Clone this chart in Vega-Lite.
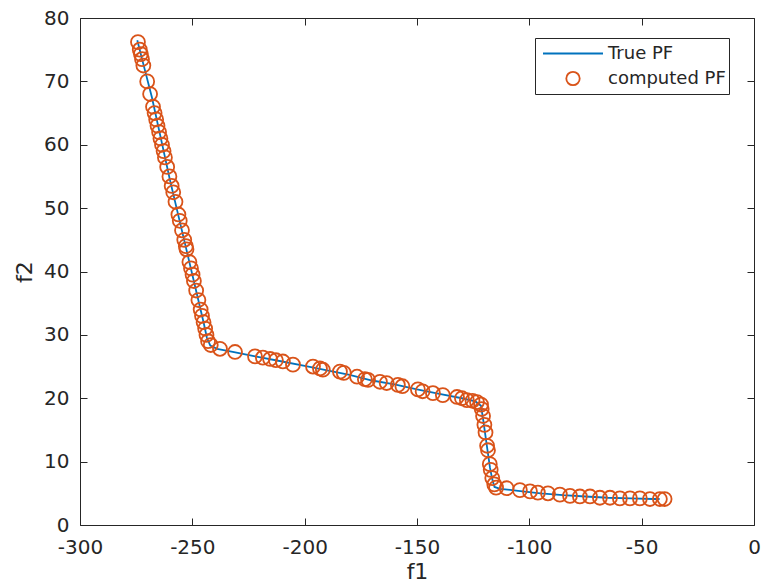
{
  "$schema": "https://vega.github.io/schema/vega-lite/v6.json",
  "autosize": {"type": "none"},
  "padding": {"left": 80, "top": 18, "right": 7, "bottom": 61},
  "width": 674,
  "height": 507,
  "background": "white",
  "config": {
    "view": {"stroke": "#262626", "strokeWidth": 1},
    "font": "DejaVu Sans"
  },
  "datasets": {
    "truepf": [
      {"f1": -274.5, "f2": 76.5, "series": "True PF"},
      {"f1": -272, "f2": 73, "series": "True PF"},
      {"f1": -268, "f2": 67.5, "series": "True PF"},
      {"f1": -264, "f2": 61, "series": "True PF"},
      {"f1": -260, "f2": 54.5, "series": "True PF"},
      {"f1": -256, "f2": 48.5, "series": "True PF"},
      {"f1": -252, "f2": 42.5, "series": "True PF"},
      {"f1": -248, "f2": 36.5, "series": "True PF"},
      {"f1": -245, "f2": 32, "series": "True PF"},
      {"f1": -243.5, "f2": 29.5, "series": "True PF"},
      {"f1": -242, "f2": 28.3, "series": "True PF"},
      {"f1": -239, "f2": 27.8, "series": "True PF"},
      {"f1": -232, "f2": 27.3, "series": "True PF"},
      {"f1": -222, "f2": 26.6, "series": "True PF"},
      {"f1": -210, "f2": 25.8, "series": "True PF"},
      {"f1": -200, "f2": 25.1, "series": "True PF"},
      {"f1": -190, "f2": 24.4, "series": "True PF"},
      {"f1": -180, "f2": 23.7, "series": "True PF"},
      {"f1": -170, "f2": 22.8, "series": "True PF"},
      {"f1": -160, "f2": 22.2, "series": "True PF"},
      {"f1": -150, "f2": 21.4, "series": "True PF"},
      {"f1": -140, "f2": 20.7, "series": "True PF"},
      {"f1": -130, "f2": 20.0, "series": "True PF"},
      {"f1": -124, "f2": 19.5, "series": "True PF"},
      {"f1": -121.5, "f2": 18.8, "series": "True PF"},
      {"f1": -120.5, "f2": 16.5, "series": "True PF"},
      {"f1": -119.5, "f2": 14, "series": "True PF"},
      {"f1": -118.5, "f2": 11.5, "series": "True PF"},
      {"f1": -117.5, "f2": 9, "series": "True PF"},
      {"f1": -116.5, "f2": 7.2, "series": "True PF"},
      {"f1": -115.5, "f2": 6.0, "series": "True PF"},
      {"f1": -113, "f2": 5.7, "series": "True PF"},
      {"f1": -105, "f2": 5.4, "series": "True PF"},
      {"f1": -95, "f2": 5.0, "series": "True PF"},
      {"f1": -85, "f2": 4.7, "series": "True PF"},
      {"f1": -75, "f2": 4.5, "series": "True PF"},
      {"f1": -65, "f2": 4.3, "series": "True PF"},
      {"f1": -55, "f2": 4.2, "series": "True PF"},
      {"f1": -45, "f2": 4.1, "series": "True PF"},
      {"f1": -42, "f2": 4.1, "series": "True PF"}
    ],
    "computed": [
      {"f1": -274.2, "f2": 76.2, "series": "computed PF"},
      {"f1": -273.4, "f2": 75.0, "series": "computed PF"},
      {"f1": -272.9, "f2": 74.3, "series": "computed PF"},
      {"f1": -272.4, "f2": 73.5, "series": "computed PF"},
      {"f1": -271.8, "f2": 72.5, "series": "computed PF"},
      {"f1": -270.1, "f2": 70.0, "series": "computed PF"},
      {"f1": -268.8, "f2": 68.0, "series": "computed PF"},
      {"f1": -267.5, "f2": 66.0, "series": "computed PF"},
      {"f1": -266.8, "f2": 65.0, "series": "computed PF"},
      {"f1": -266.1, "f2": 64.0, "series": "computed PF"},
      {"f1": -265.5, "f2": 63.0, "series": "computed PF"},
      {"f1": -264.8, "f2": 62.0, "series": "computed PF"},
      {"f1": -264.2, "f2": 61.0, "series": "computed PF"},
      {"f1": -263.5, "f2": 60.0, "series": "computed PF"},
      {"f1": -262.8, "f2": 59.0, "series": "computed PF"},
      {"f1": -262.2, "f2": 58.0, "series": "computed PF"},
      {"f1": -261.2, "f2": 56.5, "series": "computed PF"},
      {"f1": -260.2, "f2": 55.0, "series": "computed PF"},
      {"f1": -259.2, "f2": 53.5, "series": "computed PF"},
      {"f1": -258.5, "f2": 52.5, "series": "computed PF"},
      {"f1": -257.5, "f2": 51.0, "series": "computed PF"},
      {"f1": -256.2, "f2": 49.0, "series": "computed PF"},
      {"f1": -255.6, "f2": 48.0, "series": "computed PF"},
      {"f1": -254.6, "f2": 46.5, "series": "computed PF"},
      {"f1": -253.6, "f2": 45.0, "series": "computed PF"},
      {"f1": -252.9, "f2": 44.0, "series": "computed PF"},
      {"f1": -252.6, "f2": 43.5, "series": "computed PF"},
      {"f1": -251.3, "f2": 41.5, "series": "computed PF"},
      {"f1": -250.6, "f2": 40.5, "series": "computed PF"},
      {"f1": -249.9, "f2": 39.5, "series": "computed PF"},
      {"f1": -249.3, "f2": 38.5, "series": "computed PF"},
      {"f1": -248.3, "f2": 37.0, "series": "computed PF"},
      {"f1": -247.3, "f2": 35.5, "series": "computed PF"},
      {"f1": -246.3, "f2": 34.0, "series": "computed PF"},
      {"f1": -245.7, "f2": 33.0, "series": "computed PF"},
      {"f1": -245.0, "f2": 32.0, "series": "computed PF"},
      {"f1": -244.3, "f2": 31.0, "series": "computed PF"},
      {"f1": -243.7, "f2": 30.0, "series": "computed PF"},
      {"f1": -243.0, "f2": 29.0, "series": "computed PF"},
      {"f1": -241.8, "f2": 28.4, "series": "computed PF"},
      {"f1": -237.7, "f2": 27.8, "series": "computed PF"},
      {"f1": -231.0, "f2": 27.3, "series": "computed PF"},
      {"f1": -222.1, "f2": 26.6, "series": "computed PF"},
      {"f1": -218.6, "f2": 26.4, "series": "computed PF"},
      {"f1": -215.4, "f2": 26.2, "series": "computed PF"},
      {"f1": -212.8, "f2": 26.0, "series": "computed PF"},
      {"f1": -209.7, "f2": 25.8, "series": "computed PF"},
      {"f1": -205.2, "f2": 25.3, "series": "computed PF"},
      {"f1": -196.3, "f2": 25.0, "series": "computed PF"},
      {"f1": -193.2, "f2": 24.7, "series": "computed PF"},
      {"f1": -191.9, "f2": 24.5, "series": "computed PF"},
      {"f1": -184.3, "f2": 24.2, "series": "computed PF"},
      {"f1": -182.6, "f2": 24.0, "series": "computed PF"},
      {"f1": -176.7, "f2": 23.4, "series": "computed PF"},
      {"f1": -173.2, "f2": 23.0, "series": "computed PF"},
      {"f1": -171.8, "f2": 22.9, "series": "computed PF"},
      {"f1": -166.5, "f2": 22.6, "series": "computed PF"},
      {"f1": -163.5, "f2": 22.4, "series": "computed PF"},
      {"f1": -158.5, "f2": 22.1, "series": "computed PF"},
      {"f1": -156.5, "f2": 21.9, "series": "computed PF"},
      {"f1": -149.6, "f2": 21.4, "series": "computed PF"},
      {"f1": -147.5, "f2": 21.1, "series": "computed PF"},
      {"f1": -142.9, "f2": 20.8, "series": "computed PF"},
      {"f1": -138.5, "f2": 20.5, "series": "computed PF"},
      {"f1": -132.2, "f2": 20.2, "series": "computed PF"},
      {"f1": -130.0, "f2": 20.0, "series": "computed PF"},
      {"f1": -127.8, "f2": 19.7, "series": "computed PF"},
      {"f1": -125.3, "f2": 19.6, "series": "computed PF"},
      {"f1": -123.3, "f2": 19.4, "series": "computed PF"},
      {"f1": -121.5, "f2": 19.0, "series": "computed PF"},
      {"f1": -121.2, "f2": 18.3, "series": "computed PF"},
      {"f1": -120.6, "f2": 17.2, "series": "computed PF"},
      {"f1": -120.0, "f2": 15.8, "series": "computed PF"},
      {"f1": -119.5, "f2": 14.6, "series": "computed PF"},
      {"f1": -118.8, "f2": 12.5, "series": "computed PF"},
      {"f1": -118.4, "f2": 11.8, "series": "computed PF"},
      {"f1": -117.6, "f2": 9.6, "series": "computed PF"},
      {"f1": -117.2, "f2": 8.7, "series": "computed PF"},
      {"f1": -116.5, "f2": 7.4, "series": "computed PF"},
      {"f1": -115.6, "f2": 6.4, "series": "computed PF"},
      {"f1": -114.8, "f2": 5.9, "series": "computed PF"},
      {"f1": -110.1, "f2": 5.8, "series": "computed PF"},
      {"f1": -104.2, "f2": 5.5, "series": "computed PF"},
      {"f1": -99.7, "f2": 5.3, "series": "computed PF"},
      {"f1": -96.2, "f2": 5.1, "series": "computed PF"},
      {"f1": -91.7, "f2": 5.0, "series": "computed PF"},
      {"f1": -86.4, "f2": 4.8, "series": "computed PF"},
      {"f1": -81.9, "f2": 4.6, "series": "computed PF"},
      {"f1": -77.5, "f2": 4.5, "series": "computed PF"},
      {"f1": -73.0, "f2": 4.5, "series": "computed PF"},
      {"f1": -68.6, "f2": 4.3, "series": "computed PF"},
      {"f1": -64.1, "f2": 4.3, "series": "computed PF"},
      {"f1": -59.7, "f2": 4.2, "series": "computed PF"},
      {"f1": -55.2, "f2": 4.2, "series": "computed PF"},
      {"f1": -50.8, "f2": 4.2, "series": "computed PF"},
      {"f1": -46.3, "f2": 4.1, "series": "computed PF"},
      {"f1": -41.9, "f2": 4.1, "series": "computed PF"},
      {"f1": -39.8, "f2": 4.1, "series": "computed PF"}
    ]
  },
  "resolve": {"axis": {"x": "independent", "y": "independent"}},
  "layer": [
    {
      "data": {"name": "truepf"},
      "mark": {"type": "line", "strokeWidth": 1.8},
      "encoding": {
        "x": {
          "field": "f1", "type": "quantitative",
          "scale": {"domain": [-300, 0], "nice": false, "zero": false},
          "axis": {
            "orient": "bottom", "title": "f1", "values": [-300, -250, -200, -150, -100, -50, 0],
            "labelExpr": "'' + datum.value", "grid": false, "domain": false,
            "tickSize": -7, "tickColor": "#262626", "tickWidth": 1,
            "labelPadding": 19, "labelFont": "DejaVu Sans", "labelFontSize": 20, "labelColor": "#262626",
            "labelFlush": false, "labelOverlap": false,
            "titleFont": "DejaVu Sans", "titleFontSize": 22, "titleFontWeight": "normal", "titleColor": "#262626", "titlePadding": 4
          }
        },
        "y": {
          "field": "f2", "type": "quantitative",
          "scale": {"domain": [0, 80], "nice": false},
          "axis": {
            "orient": "left", "title": "f2", "values": [0, 10, 20, 30, 40, 50, 60, 70, 80],
            "labelExpr": "'' + datum.value", "grid": false, "domain": false,
            "tickSize": -7, "tickColor": "#262626", "tickWidth": 1,
            "labelPadding": 18, "labelFont": "DejaVu Sans", "labelFontSize": 20, "labelColor": "#262626",
            "labelFlush": false, "labelOverlap": false,
            "titleFont": "DejaVu Sans", "titleFontSize": 22, "titleFontWeight": "normal", "titleColor": "#262626", "titlePadding": 7
          }
        },
        "color": {
          "field": "series", "type": "nominal",
          "scale": {"domain": ["True PF", "computed PF"], "range": ["#0072BD", "#D95319"]},
          "legend": {
            "title": null, "orient": "none", "legendX": 455, "legendY": 20,
            "clipHeight": 25, "padding": 3, "symbolOffset": 26, "labelOffset": 26, "rowPadding": 0,
            "strokeColor": "#262626", "fillColor": "white",
            "labelFont": "DejaVu Sans", "labelFontSize": 18, "labelColor": "#262626", "labelLimit": 300,
            "encode": {
              "symbols": {
                "update": {
                  "shape": {"signal": "datum.value === 'True PF' ? 'stroke' : 'circle'"},
                  "size": {"signal": "datum.value === 'True PF' ? 3600 : 180"},
                  "strokeWidth": {"value": 1.8},
                  "fill": {"value": "transparent"},
                  "stroke": {"signal": "datum.value === 'True PF' ? '#0072BD' : '#D95319'"},
                  "opacity": {"value": 1}
                }
              }
            }
          }
        }
      }
    },
    {
      "data": {"name": "computed"},
      "mark": {"type": "point", "filled": false, "size": 195, "strokeWidth": 1.8, "opacity": 1},
      "encoding": {
        "x": {"field": "f1", "type": "quantitative", "axis": null},
        "y": {"field": "f2", "type": "quantitative", "axis": null},
        "color": {"field": "series", "type": "nominal"}
      }
    },
    {
      "data": {"name": "computed"},
      "mark": {"type": "point", "opacity": 0},
      "encoding": {
        "x": {
          "field": "f1", "type": "quantitative",
          "axis": {"orient": "top", "title": null, "labels": false, "grid": false, "domain": false,
                   "values": [-300, -250, -200, -150, -100, -50, 0], "tickSize": -7, "tickColor": "#262626", "tickWidth": 1}
        },
        "y": {
          "field": "f2", "type": "quantitative",
          "axis": {"orient": "right", "title": null, "labels": false, "grid": false, "domain": false,
                   "values": [0, 10, 20, 30, 40, 50, 60, 70, 80], "tickSize": -7, "tickColor": "#262626", "tickWidth": 1}
        }
      }
    }
  ]
}
